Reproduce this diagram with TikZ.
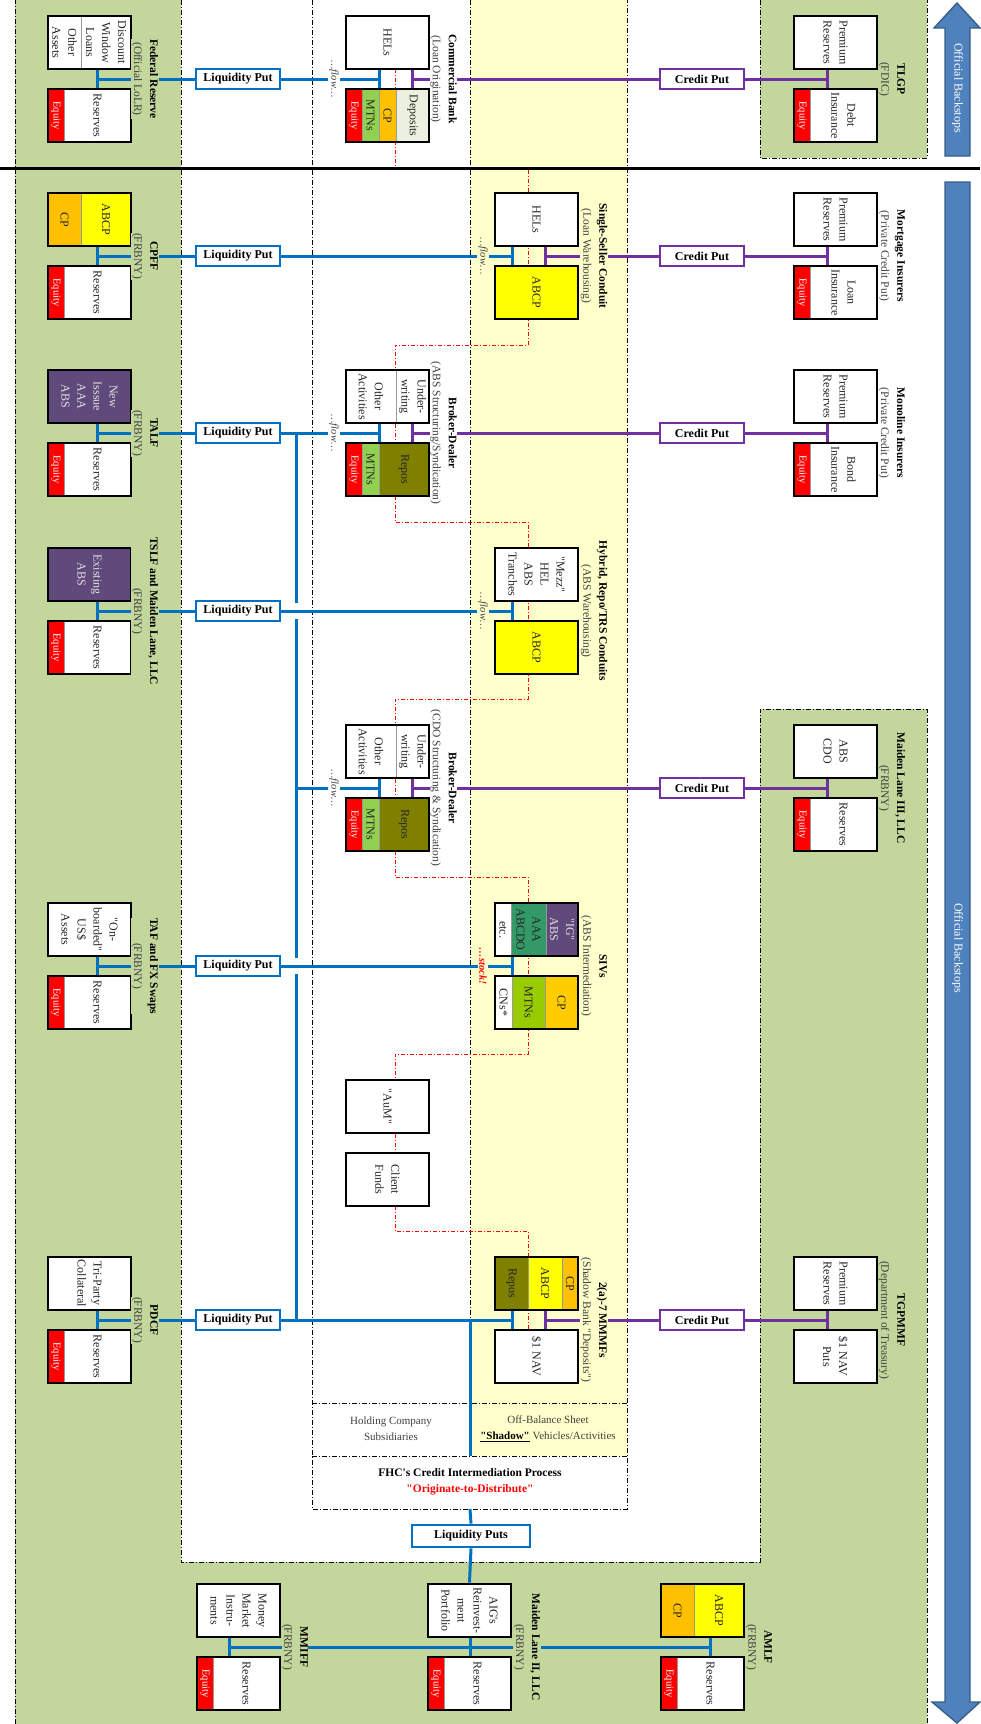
\documentclass[tikz,border=0pt]{standalone}
\usepackage{fontspec}
\setmainfont{Liberation Serif}[Ligatures=TeXOff]

\definecolor{bgreen}{HTML}{C3D69B}
\definecolor{shadowy}{HTML}{FFFFCC}
\definecolor{putblue}{HTML}{0070C0}
\definecolor{putpurple}{HTML}{7030A0}
\definecolor{cporange}{HTML}{FFC000}
\definecolor{abcpyellow}{HTML}{FFFF00}
\definecolor{abspurple}{HTML}{604A7B}
\definecolor{mtngreen}{HTML}{92D050}
\definecolor{repoolive}{HTML}{808000}
\definecolor{depgreen}{HTML}{EBF1DE}
\definecolor{sivgreen}{HTML}{339966}
\definecolor{sivmtn}{HTML}{99CC00}
\definecolor{sivcp}{HTML}{FFCC00}
\definecolor{arrowfill}{HTML}{4F81BD}
\definecolor{arrowline}{HTML}{385D8A}
\definecolor{inktext}{HTML}{262626}
\definecolor{subtext}{HTML}{404040}
\definecolor{lightink}{HTML}{E0E0E0}

\tikzset{
  sheet/.style={draw=black, line width=2.8pt, minimum width=83pt, minimum height=53pt, inner sep=0pt},
  slab/.style={rotate=-90, draw=gray!80, line width=0.5pt, fill=white, minimum width=53pt, minimum height=#1, inner sep=0pt, align=center, text=inktext, font={\fontsize{12}{16}\selectfont}},
  equity/.style={slab=16pt, fill=red, text=white, font={\fontsize{10.5}{12}\selectfont}},
  entity/.style={rotate=-90, align=center, inner sep=0.5pt, font={\fontsize{11.5}{16}\selectfont}},
  liqput/.style={draw=putblue, line width=2.8pt, fill=white, minimum width=84pt, minimum height=20pt, inner sep=0pt, font={\bfseries\fontsize{12}{13}\selectfont}},
  crput/.style={liqput, draw=putpurple},
  bline/.style={draw=putblue, line width=3pt},
  pline/.style={draw=putpurple, line width=3pt},
  flowtag/.style={rotate=-90, inner sep=1.5pt, text=subtext, font={\itshape\fontsize{10.5}{12}\selectfont}},
  dashdot/.style={line width=0.8pt, dash pattern=on 5pt off 2pt on 1pt off 2pt},
  redtrail/.style={draw=red, line width=0.8pt, dash pattern=on 4pt off 2pt on 1pt off 2pt},
  backstop/.style={fill=arrowfill, draw=arrowline, line width=1.4pt},
}

\begin{document}
\begin{tikzpicture}[x=1pt,y=-1pt]
\useasboundingbox (0,0) rectangle (980,1724);

% regions
\fill[bgreen] (15,0) -- (181,0) -- (181,1562) -- (760,1562) -- (760,709) -- (927,709) -- (927,1724) -- (15,1724) -- cycle;
\fill[bgreen] (760,0) rectangle (927,158);
\fill[shadowy] (470,0) rectangle (627,1456);
\draw[dashdot] (15,1724) -- (15,0);
\draw[dashdot] (181,0) -- (181,1562) -- (760,1562) -- (760,709) -- (927,709) -- (927,1724);
\draw[dashdot] (760,0) -- (760,158) -- (927,158) -- (927,0);
\draw[dashdot] (312,0) -- (312,1509) -- (627,1509) -- (627,0);
\draw[dashdot] (470,0) -- (470,1456);
\draw[dashdot] (312,1403) -- (627,1403);
\draw[dashdot] (312,1456) -- (627,1456);

% red trail
\coordinate (trailStart) at (395,69);
\coordinate (trailEnd) at (528,1330);
\draw[redtrail] (trailStart) -- (395,168) -- (528,168) -- (528,345) -- (395,345) -- (395,522) -- (528,522) -- (528,699) -- (395,699) -- (395,877) -- (528,877) -- (528,1054) -- (395,1054) -- (395,1231) -- (528,1231) -- (trailEnd);

% divider
\draw[line width=3pt] (0,168) -- (980,168);

% backstop arrows
\draw[backstop] (957,3) -- (980,28) -- (970,28) -- (970,156) -- (945,156) -- (945,28) -- (934,28) -- cycle;
\node[rotate=-90, text=white, font={\fontsize{12}{13}\selectfont}] (upTag) at (957.5,88) {Official Backstops};
\draw[backstop] (945,182) -- (970,182) -- (970,1702) -- (980,1702) -- (957,1723) -- (932,1702) -- (945,1702) -- cycle;
\node[rotate=-90, text=white, font={\fontsize{12}{13}\selectfont}] (downTag) at (957.5,948) {Official Backstops};

%%%% Row 1
% Federal Reserve
\node[slab=50pt] (fedA1) at (106,42.5) {Discount\\Window\\Loans};
\node[slab=33pt] (fedA2) at (64.5,42.5) {Other\\Assets};
\node[sheet] (fedA) at (89.5,42.5) {};
\node[equity] (fedE) at (56,115.5) {Equity};
\node[slab=67pt] (fedR) at (97.5,115.5) {Reserves};
\node[sheet] (fedL) at (89.5,115.5) {};
% Commercial Bank
\node[slab=83pt] (cbA1) at (387.5,42.5) {HELs};
\node[sheet] (cbA) at (387.5,42.5) {};
\node[equity] (cbE) at (354,115.5) {Equity};
\node[slab=17pt, fill=mtngreen] (cbM) at (370.5,115.5) {MTNs};
\node[slab=17pt, fill=cporange] (cbC) at (387.5,115.5) {CP};
\node[slab=33pt, fill=depgreen] (cbD) at (412.5,115.5) {Deposits};
\node[sheet] (cbL) at (387.5,115.5) {};
% TLGP
\node[slab=83pt] (tlgpA1) at (835.5,42.5) {Premium\\Reserves};
\node[sheet] (tlgpA) at (835.5,42.5) {};
\node[equity] (tlgpE) at (802,115.5) {Equity};
\node[slab=67pt] (tlgpD) at (843.5,115.5) {Debt\\Insurance};
\node[sheet] (tlgpL) at (835.5,115.5) {};

%%%% Row 2
% CPFF
\node[slab=33pt, fill=cporange] (cpffA1) at (64.5,219.5) {CP};
\node[slab=50pt, fill=abcpyellow] (cpffA2) at (106,219.5) {ABCP};
\node[sheet] (cpffA) at (89.5,219.5) {};
\node[equity] (cpffE) at (56,292.5) {Equity};
\node[slab=67pt] (cpffR) at (97.5,292.5) {Reserves};
\node[sheet] (cpffL) at (89.5,292.5) {};
% Single-Seller Conduit
\node[slab=83pt] (sscA1) at (536.5,219.5) {HELs};
\node[sheet] (sscA) at (536.5,219.5) {};
\node[slab=83pt, fill=abcpyellow] (sscL1) at (536.5,292.5) {ABCP};
\node[sheet] (sscL) at (536.5,292.5) {};
% Mortgage Insurers
\node[slab=83pt] (mortA1) at (835.5,219.5) {Premium\\Reserves};
\node[sheet] (mortA) at (835.5,219.5) {};
\node[equity] (mortE) at (802,292.5) {Equity};
\node[slab=67pt] (mortI) at (843.5,292.5) {Loan\\Insurance};
\node[sheet] (mortL) at (835.5,292.5) {};

%%%% Row 3
% TALF
\node[slab=83pt, fill=abspurple, text=lightink] (talfA1) at (89.5,396.5) {New\\Isssue\\AAA\\ABS};
\node[sheet] (talfA) at (89.5,396.5) {};
\node[equity] (talfE) at (56,469.5) {Equity};
\node[slab=67pt] (talfR) at (97.5,469.5) {Reserves};
\node[sheet] (talfL) at (89.5,469.5) {};
% Broker-Dealer (ABS)
\node[slab=50pt] (bdaA1) at (371,396.5) {Other\\Activities};
\node[slab=33pt] (bdaA2) at (412.5,396.5) {Under-\\writing};
\node[sheet] (bdaA) at (387.5,396.5) {};
\node[equity] (bdaE) at (354,469.5) {Equity};
\node[slab=17pt, fill=mtngreen] (bdaM) at (370.5,469.5) {MTNs};
\node[slab=50pt, fill=repoolive] (bdaR) at (404,469.5) {Repos};
\node[sheet] (bdaL) at (387.5,469.5) {};
% Monoline Insurers
\node[slab=83pt] (monoA1) at (835.5,396.5) {Premium\\Reserves};
\node[sheet] (monoA) at (835.5,396.5) {};
\node[equity] (monoE) at (802,469.5) {Equity};
\node[slab=67pt] (monoI) at (843.5,469.5) {Bond\\Insurance};
\node[sheet] (monoL) at (835.5,469.5) {};

%%%% Row 4
% TSLF and Maiden Lane
\node[slab=83pt, fill=abspurple, text=lightink] (tslfA1) at (89.5,574.5) {Existing\\ABS};
\node[sheet] (tslfA) at (89.5,574.5) {};
\node[equity] (tslfE) at (56,647.5) {Equity};
\node[slab=67pt] (tslfR) at (97.5,647.5) {Reserves};
\node[sheet] (tslfL) at (89.5,647.5) {};
% Hybrid conduits
\node[slab=83pt] (hybA1) at (536.5,574.5) {"Mezz"\\HEL\\ABS\\Tranches};
\node[sheet] (hybA) at (536.5,574.5) {};
\node[slab=83pt, fill=abcpyellow] (hybL1) at (536.5,647.5) {ABCP};
\node[sheet] (hybL) at (536.5,647.5) {};

%%%% Row 5
% Broker-Dealer (CDO)
\node[slab=50pt] (bdcA1) at (371,751.5) {Other\\Activities};
\node[slab=33pt] (bdcA2) at (412.5,751.5) {Under-\\writing};
\node[sheet] (bdcA) at (387.5,751.5) {};
\node[equity] (bdcE) at (354,824.5) {Equity};
\node[slab=17pt, fill=mtngreen] (bdcM) at (370.5,824.5) {MTNs};
\node[slab=50pt, fill=repoolive] (bdcR) at (404,824.5) {Repos};
\node[sheet] (bdcL) at (387.5,824.5) {};
% Maiden Lane III
\node[slab=83pt] (ml3A1) at (835.5,751.5) {ABS\\CDO};
\node[sheet] (ml3A) at (835.5,751.5) {};
\node[equity] (ml3E) at (802,824.5) {Equity};
\node[slab=67pt] (ml3R) at (843.5,824.5) {Reserves};
\node[sheet] (ml3L) at (835.5,824.5) {};

%%%% Row 6
% TAF and FX Swaps
\node[slab=83pt] (tafA1) at (89.5,929.5) {"On-\\boarded"\\US\$\\Assets};
\node[sheet] (tafA) at (89.5,929.5) {};
\node[equity] (tafE) at (56,1002.5) {Equity};
\node[slab=67pt] (tafR) at (97.5,1002.5) {Reserves};
\node[sheet] (tafL) at (89.5,1002.5) {};
% SIVs
\node[slab=16pt] (sivA1) at (503,929.5) {etc.};
\node[slab=35pt, fill=sivgreen] (sivA2) at (528.5,929.5) {AAA\\ABCDO};
\node[slab=32pt, fill=abspurple, text=lightink] (sivA3) at (562,929.5) {"IG"\\ABS};
\node[sheet] (sivA) at (536.5,929.5) {};
\node[slab=17pt] (sivL1) at (503.5,1002.5) {CNs*};
\node[slab=33pt, fill=sivmtn] (sivL2) at (528.5,1002.5) {MTNs};
\node[slab=33pt, fill=sivcp] (sivL3) at (561.5,1002.5) {CP};
\node[sheet] (sivL) at (536.5,1002.5) {};
% asset management
\node[slab=83pt] (aumB1) at (387.5,1106.5) {"AuM"};
\node[sheet] (aumB) at (387.5,1106.5) {};
\node[slab=83pt] (fundB1) at (387.5,1179.5) {Client\\Funds};
\node[sheet] (fundB) at (387.5,1179.5) {};

%%%% Row 7
% PDCF
\node[slab=83pt] (pdcfA1) at (89.5,1283.5) {Tri-Party\\Collateral};
\node[sheet] (pdcfA) at (89.5,1283.5) {};
\node[equity] (pdcfE) at (56,1356.5) {Equity};
\node[slab=67pt] (pdcfR) at (97.5,1356.5) {Reserves};
\node[sheet] (pdcfL) at (89.5,1356.5) {};
% 2(a)-7 MMMFs
\node[slab=33pt, fill=repoolive] (mmA1) at (511.5,1283.5) {Repos};
\node[slab=34pt, fill=abcpyellow] (mmA2) at (545,1283.5) {ABCP};
\node[slab=16pt, fill=cporange] (mmA3) at (570,1283.5) {CP};
\node[sheet] (mmA) at (536.5,1283.5) {};
\node[slab=83pt] (mmL1) at (536.5,1356.5) {\$1 NAV};
\node[sheet] (mmL) at (536.5,1356.5) {};
% TGPMMF
\node[slab=83pt] (tgpA1) at (835.5,1283.5) {Premium\\Reserves};
\node[sheet] (tgpA) at (835.5,1283.5) {};
\node[slab=83pt] (tgpL1) at (835.5,1356.5) {\$1 NAV\\Puts};
\node[sheet] (tgpL) at (835.5,1356.5) {};

%%%% Bottom row
% MMIFF
\node[slab=83pt] (mmiffA1) at (238.5,1610.5) {Money\\Market\\Instru-\\ments};
\node[sheet] (mmiffA) at (238.5,1610.5) {};
\node[equity] (mmiffE) at (205,1683.5) {Equity};
\node[slab=67pt] (mmiffR) at (246.5,1683.5) {Reserves};
\node[sheet] (mmiffL) at (238.5,1683.5) {};
% Maiden Lane II
\node[slab=83pt] (ml2A1) at (469.5,1610.5) {AIG's\\Reinvest-\\ment\\Portfolio};
\node[sheet] (ml2A) at (469.5,1610.5) {};
\node[equity] (ml2E) at (436,1683.5) {Equity};
\node[slab=67pt] (ml2R) at (477.5,1683.5) {Reserves};
\node[sheet] (ml2L) at (469.5,1683.5) {};
% AMLF
\node[slab=33pt, fill=cporange] (amlfA1) at (677.5,1610.5) {CP};
\node[slab=50pt, fill=abcpyellow] (amlfA2) at (719,1610.5) {ABCP};
\node[sheet] (amlfA) at (702.5,1610.5) {};
\node[equity] (amlfE) at (669,1683.5) {Equity};
\node[slab=67pt] (amlfR) at (710.5,1683.5) {Reserves};
\node[sheet] (amlfL) at (702.5,1683.5) {};

% puts
\node[liqput] (fedPut) at (238,79) {Liquidity Put};
\node[liqput] (cpffPut) at (238,256) {Liquidity Put};
\node[liqput] (talfPut) at (238,433) {Liquidity Put};
\node[liqput] (tslfPut) at (238,611) {Liquidity Put};
\node[liqput] (tafPut) at (238,966) {Liquidity Put};
\node[liqput] (pdcfPut) at (238,1320) {Liquidity Put};
\node[liqput, minimum width=118pt, minimum height=22pt] (fhcPuts) at (471,1536) {Liquidity Puts};
\node[crput] (cbPut) at (702,79) {Credit Put};
\node[crput] (sscPut) at (702,256) {Credit Put};
\node[crput] (bdaPut) at (702,433) {Credit Put};
\node[crput] (bdcPut) at (702,788) {Credit Put};
\node[crput] (mmPut) at (702,1320) {Credit Put};

% junctions
\coordinate (fedJ) at (97,79);     \coordinate (cbJb) at (379,79);    \coordinate (cbJp) at (412,79);    \coordinate (tlgpJ) at (827,79);
\coordinate (cpffJ) at (97,256);   \coordinate (sscJb) at (512,256);  \coordinate (sscJp) at (545,256);  \coordinate (mortJ) at (827,256);
\coordinate (talfJ) at (97,433);   \coordinate (bdaJb) at (379,433);  \coordinate (bdaJp) at (412,433);  \coordinate (monoJ) at (827,433);
\coordinate (tslfJ) at (97,611);   \coordinate (hybJb) at (512,611);
\coordinate (busMid) at (296,788); \coordinate (bdcJb) at (379,788);  \coordinate (bdcJp) at (412,788);  \coordinate (ml3J) at (827,788);
\coordinate (tafJ) at (97,966);    \coordinate (sivJb) at (512,966);
\coordinate (pdcfJ) at (97,1320);  \coordinate (mmJb) at (512,1320);  \coordinate (mmJp) at (545,1320);  \coordinate (tgpJ) at (827,1320);
\coordinate (busTop) at (296,433); \coordinate (busBot) at (296,1320);
\coordinate (fhcJ) at (470,1320);  \coordinate (fhcTop) at (470,1456); \coordinate (fhcBot) at (470,1509);
\coordinate (mmiffJ) at (229,1647); \coordinate (ml2J) at (470,1647); \coordinate (amlfJ) at (710,1647);

% liquidity lines
\foreach \s/\j in {fed/fedJ, cpff/cpffJ, talf/talfJ, tslf/tslfJ, taf/tafJ, pdcf/pdcfJ}{
  \draw[bline] (\s A.south -| \j) -- (\s L.north -| \j);
  \draw[bline] (\j) -- (\s Put.west);
}
\draw[bline] (fedPut.east) -- (cbJb);
\draw[bline] (cpffPut.east) -- (sscJb);
\draw[bline] (talfPut.east) -- (bdaJb);
\draw[bline] (tslfPut.east) -- (hybJb);
\draw[bline] (tafPut.east) -- (sivJb);
\draw[bline] (pdcfPut.east) -- (mmJb);
\draw[bline] (busTop) -- (296,603);
\draw[bline] (296,619) -- (296,958);
\draw[bline] (296,974) -- (busBot);
\draw[bline] (busMid) -- (bdcJb);
\foreach \s/\j in {cb/cbJb, ssc/sscJb, bda/bdaJb, hyb/hybJb, bdc/bdcJb, siv/sivJb, mm/mmJb, mmiff/mmiffJ, ml2/ml2J, amlf/amlfJ}{
  \draw[bline] (\s A.south -| \j) -- (\s L.north -| \j);
}
\draw[bline] (fhcJ) -- (fhcTop);
\draw[bline] (fhcBot) -- (fhcPuts.north);
\draw[bline] (fhcPuts.south) -- (ml2A.north);
\draw[bline] (mmiffJ) -- (amlfJ);

% credit lines
\foreach \s/\j/\p/\t/\k in {cb/cbJp/cbPut/tlgp/tlgpJ, ssc/sscJp/sscPut/mort/mortJ, bda/bdaJp/bdaPut/mono/monoJ, bdc/bdcJp/bdcPut/ml3/ml3J, mm/mmJp/mmPut/tgp/tgpJ}{
  \draw[pline] (\s A.south -| \j) -- (\s L.north -| \j);
  \draw[pline] (\j) -- (\p.west);
  \draw[pline] (\p.east) -- (\k);
  \draw[pline] (\t A.south -| \k) -- (\t L.north -| \k);
}

% flow tags
\node[flowtag, fill=white] (cbFlow) at (334,79) {\ldots flow\ldots};
\node[flowtag, fill=shadowy] (sscFlow) at (483,256) {\ldots flow\ldots};
\node[flowtag, fill=white] (bdaFlow) at (334,433) {\ldots flow\ldots};
\node[flowtag, fill=shadowy] (hybFlow) at (483,611) {\ldots flow\ldots};
\node[flowtag, fill=white] (bdcFlow) at (334,788) {\ldots flow\ldots};
\node[flowtag, fill=shadowy, text=red, font={\bfseries\itshape\fontsize{10.5}{12}\selectfont}] (sivStock) at (483,966) {\ldots stock!};

% Text Node
\node[entity, fill=bgreen] (fedT) at (145,79) {\textbf{Federal Reserve}\\{\color{subtext}(Official LoLR)}};
\node[entity, fill=white] (cbT) at (443.5,79) {\textbf{Commercial Bank}\\{\color{subtext}(Loan Origination)}};
\node[entity, fill=bgreen] (tlgpT) at (892,79) {\textbf{TLGP}\\{\color{subtext}(FDIC)}};
\node[entity, fill=bgreen] (cpffT) at (145,256) {\textbf{CPFF}\\{\color{subtext}(FRBNY)}};
\node[entity, fill=shadowy] (sscT) at (594,256) {\textbf{Single-Seller Conduit}\\{\color{subtext}(Loan Warehousing)}};
\node[entity] (mortT) at (892,256) {\textbf{Mortgage Insurers}\\{\color{subtext}(Private Credit Put)}};
\node[entity, fill=bgreen] (talfT) at (145,433) {\textbf{TALF}\\{\color{subtext}(FRBNY)}};
\node[entity, fill=white] (bdaT) at (443.5,433) {\textbf{Broker-Dealer}\\{\color{subtext}(ABS Structuring/Syndication)}};
\node[entity] (monoT) at (892,433) {\textbf{Monoline Insurers}\\{\color{subtext}(Private Credit Put)}};
\node[entity, fill=bgreen] (tslfT) at (145,611) {\textbf{TSLF and Maiden Lane, LLC}\\{\color{subtext}(FRBNY)}};
\node[entity, fill=shadowy] (hybT) at (594,611) {\textbf{Hybrid, Repo/TRS Conduits}\\{\color{subtext}(ABS Warehousing)}};
\node[entity, fill=white] (bdcT) at (443.5,788) {\textbf{Broker-Dealer}\\{\color{subtext}(CDO Structuring \& Syndication)}};
\node[entity] (ml3T) at (892,788) {\textbf{Maiden Lane III, LLC}\\{\color{subtext}(FRBNY)}};
\node[entity, fill=bgreen] (tafT) at (145,966) {\textbf{TAF and FX Swaps}\\{\color{subtext}(FRBNY)}};
\node[entity, fill=shadowy] (sivT) at (594,966) {\textbf{SIVs}\\{\color{subtext}(ABS Intermediation)}};
\node[entity, fill=bgreen] (pdcfT) at (145,1320) {\textbf{PDCF}\\{\color{subtext}(FRBNY)}};
\node[entity, fill=shadowy] (mmT) at (594,1320) {\textbf{2(a)-7 MMMFs}\\{\color{subtext}(Shadow Bank "Deposits")}};
\node[entity] (tgpT) at (892,1320) {\textbf{TGPMMF}\\{\color{subtext}(Department of Treasury)}};
\node[entity, fill=bgreen] (mmiffT) at (295,1647) {\textbf{MMIFF}\\{\color{subtext}(FRBNY)}};
\node[entity, fill=bgreen] (ml2T) at (527,1647) {\textbf{Maiden Lane II, LLC}\\{\color{subtext}(FRBNY)}};
\node[entity] (amlfT) at (759,1647) {\textbf{AMLF}\\{\color{subtext}(FRBNY)}};

% FHC key
\node[align=center, text=subtext, font={\fontsize{11}{16}\selectfont}] (holdKey) at (391,1429) {Holding Company\\Subsidiaries};
\node[align=center, text=subtext, font={\fontsize{11}{16}\selectfont}] (shadowKey) at (548,1429) {Off-Balance Sheet\\{\color{black}\underline{\textbf{"Shadow"}}} Vehicles/Activities};
\node[align=center, font={\bfseries\fontsize{11.5}{16}\selectfont}] (fhcKey) at (470,1482) {FHC's Credit Intermediation Process\\{\color{red}"Originate-to-Distribute"}};

\end{tikzpicture}
\end{document}
